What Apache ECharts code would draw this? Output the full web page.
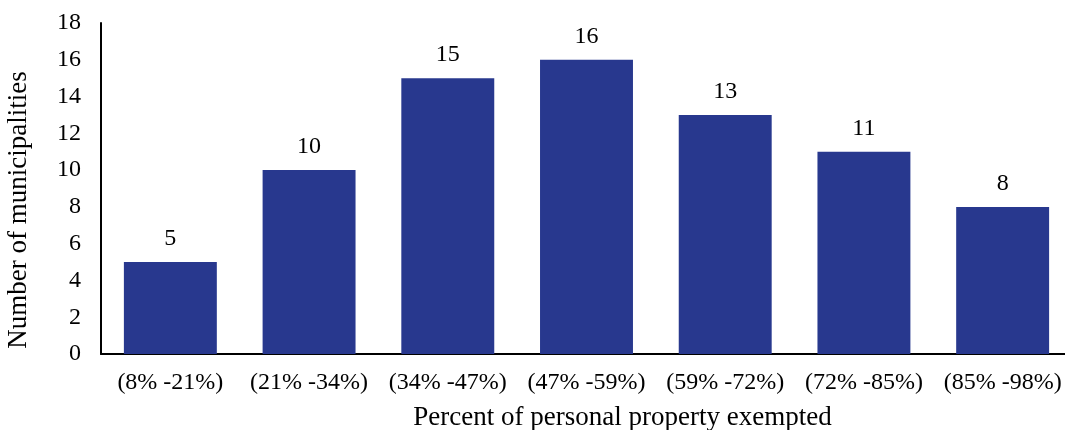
<!DOCTYPE html>
<html>
<head>
<meta charset="utf-8">
<script src="https://cdn.jsdelivr.net/npm/echarts@6/dist/echarts.min.js"></script>
<style>
  html, body { margin: 0; padding: 0; background: #fff; }
  #chart { width: 1065px; height: 430px; }
</style>
</head>
<body>
<div id="chart"></div>
<script>
// 数据
const categories = ['(8% -21%)', '(21% -34%)', '(34% -47%)', '(47% -59%)', '(59% -72%)', '(72% -85%)', '(85% -98%)'];
const counts = [5, 10, 15, 16, 13, 11, 8];
const yTicks = [0, 2, 4, 6, 8, 10, 12, 14, 16, 18];

const FONT = '"Liberation Serif", "Times New Roman", serif';

const chart = echarts.init(document.getElementById('chart'));
chart.setOption({
    animation: false,
    textStyle: { fontFamily: FONT },
    grid: { left: 101, top: 23, width: 971, bottom: 76, containLabel: false, outerBoundsMode: 'none' },
    xAxis: {
        type: 'category',
        data: categories,
        name: 'Percent of personal property exempted',
        nameLocation: 'middle',
        nameGap: 50,
        // 标题在原图里略偏右
        nameTextStyle: { fontFamily: FONT, fontSize: 27, color: '#000', padding: [0, 0, 0, 72] },
        axisLine: { lineStyle: { color: '#000', width: 2 } },
        axisTick: { show: false },
        axisLabel: { interval: 0, fontFamily: FONT, fontSize: 24, color: '#000', margin: 17 },
    },
    yAxis: {
        type: 'value',
        min: yTicks[0],
        max: yTicks[yTicks.length - 1],
        interval: 2,
        name: 'Number of municipalities',
        nameLocation: 'middle',
        nameGap: 69,
        nameTextStyle: { fontFamily: FONT, fontSize: 27, color: '#000', padding: [0, 43, 0, 0] },
        axisLine: { show: true, lineStyle: { color: '#000', width: 2 } },
        axisTick: { show: false },
        splitLine: { show: false },
        axisLabel: { fontFamily: FONT, fontSize: 24, color: '#000', margin: 20 },
    },
    series: [{
        type: 'bar',
        data: counts,
        barCategoryGap: '33%',
        itemStyle: { color: '#28388E' },
        label: {
            show: true,
            position: 'top',
            distance: 11,
            fontFamily: FONT,
            fontSize: 24,
            color: '#000',
        },
    }],
});
</script>
</body>
</html>
